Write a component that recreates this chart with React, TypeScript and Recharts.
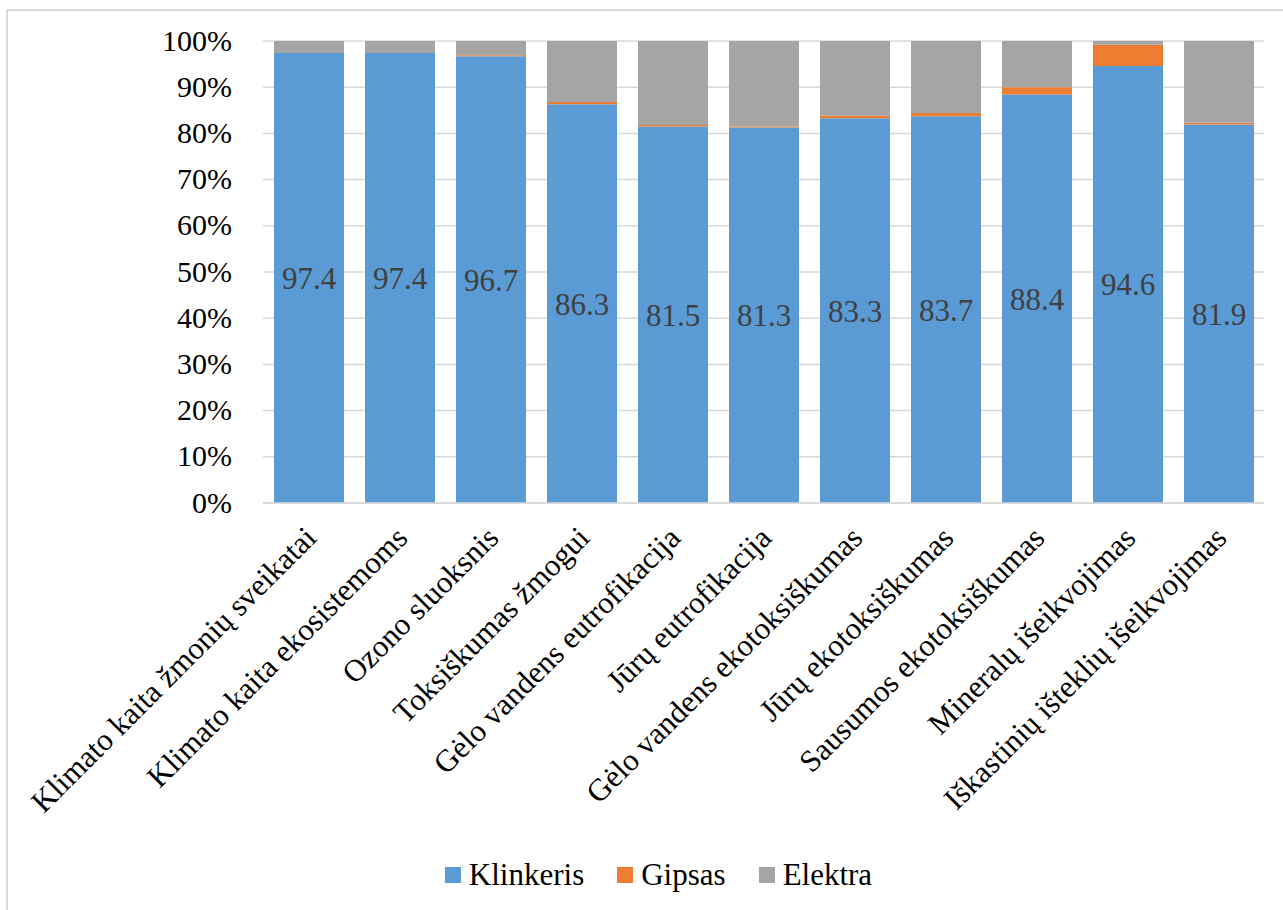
import { BarChart, Bar, XAxis, YAxis, CartesianGrid, Legend, LabelList } from "recharts";

const categories = [
  "Klimato kaita žmonių sveikatai",
  "Klimato kaita ekosistemoms",
  "Ozono sluoksnis",
  "Toksiškumas žmogui",
  "Gėlo vandens eutrofikacija",
  "Jūrų eutrofikacija",
  "Gėlo vandens ekotoksiškumas",
  "Jūrų ekotoksiškumas",
  "Sausumos ekotoksiškumas",
  "Mineralų išeikvojimas",
  "Iškastinių išteklių išeikvojimas",
];

const klinkeris = [97.4, 97.4, 96.7, 86.3, 81.5, 81.3, 83.3, 83.7, 88.4, 94.6, 81.9];
const gipsas = [0.02, 0.02, 0.2, 0.5, 0.3, 0.2, 0.5, 0.7, 1.6, 4.6, 0.4];
const elektra = [2.58, 2.58, 3.1, 13.2, 18.2, 18.5, 16.2, 15.6, 10.0, 0.8, 17.7];

const yTicks = [0, 10, 20, 30, 40, 50, 60, 70, 80, 90, 100];

const series = [
  { key: "klinkeris", name: "Klinkeris", color: "#5B9BD5" },
  { key: "gipsas", name: "Gipsas", color: "#ED7D31" },
  { key: "elektra", name: "Elektra", color: "#A5A5A5" },
];

const data = categories.map((name, i) => ({
  name,
  klinkeris: klinkeris[i],
  gipsas: gipsas[i],
  elektra: elektra[i],
}));

const FONT = "'Liberation Serif', 'Times New Roman', serif";

// category names are rotated 45° and hang down-left from each tick
const XTick = ({ x, y, payload }: any) => (
  <g transform={`translate(${x + 2},${y + 21})`}>
    <text transform="rotate(-45)" textAnchor="end" dy="0.35em" fill="#000" fontSize={31}>
      {payload.value}
    </text>
  </g>
);

const LegendContent = () => (
  <div style={{ display: "flex", justifyContent: "center", fontSize: 31, color: "#000", lineHeight: "32px" }}>
    {series.map((s, i) => (
      <div key={s.key} style={{ display: "flex", alignItems: "center", marginRight: i < series.length - 1 ? 33 : 0 }}>
        <span style={{ display: "inline-block", width: 16, height: 16, background: s.color, marginRight: 8 }} />
        <span>{s.name}</span>
      </div>
    ))}
  </div>
);

export default function App() {
  return (
    <div className="chart-box" style={{ position: "relative", width: 1283, height: 910, overflow: "hidden", background: "#fff" }}>
      <style>{`
        body { margin: 0; overflow: hidden; }
        .chart-box, .chart-box * { font-family: ${FONT} !important; }
      `}</style>
      <div
        style={{
          position: "absolute",
          left: 6,
          top: 9,
          width: 1300,
          height: 920,
          border: "2px solid #d9d9d9",
        }}
      />
      <div style={{ position: "absolute", left: 0, top: 0 }}>
        <BarChart width={1283} height={910} data={data} margin={{ top: 41, right: 19, bottom: 397, left: 0 }} barSize={70}>
          <CartesianGrid vertical={false} stroke="#d9d9d9" strokeWidth={1.5} />
          <XAxis
            dataKey="name"
            interval={0}
            tick={<XTick />}
            tickLine={false}
            axisLine={{ stroke: "#d9d9d9", strokeWidth: 1.5 }}
            height={10}
          />
          <YAxis
            width={263}
            domain={[0, 100]}
            ticks={yTicks}
            allowDataOverflow
            tickFormatter={(v) => `${v}%`}
            tick={{ fontSize: 30, fill: "#000", dy: -1 }}
            tickLine={false}
            axisLine={false}
            tickSize={0}
            tickMargin={31}
          />
          <Legend
            layout="horizontal"
            verticalAlign="middle"
            align="center"
            content={<LegendContent />}
            wrapperStyle={{ position: "absolute", top: 859, left: 17, width: 1283 }}
          />
          {series.map((s) => (
            <Bar key={s.key} dataKey={s.key} name={s.name} stackId="a" fill={s.color} isAnimationActive={false}>
              {s.key === "klinkeris" && (
                <LabelList dataKey="klinkeris" position="center" fill="#404040" fontSize={31} />
              )}
            </Bar>
          ))}
        </BarChart>
      </div>
    </div>
  );
}
